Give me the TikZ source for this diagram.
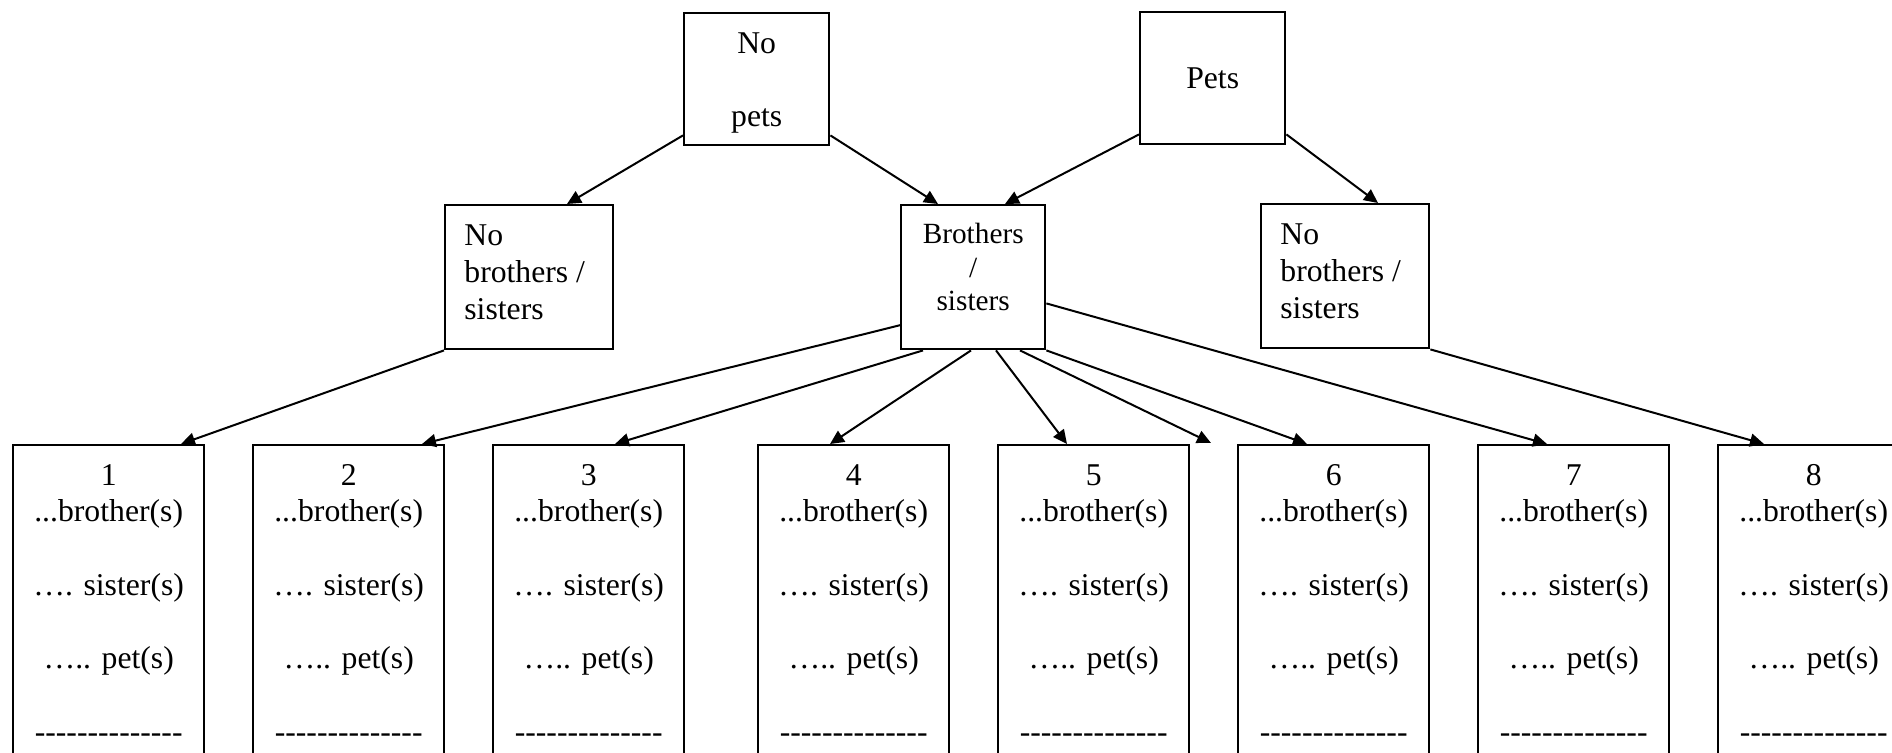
\documentclass[tikz,border=0pt]{standalone}
\usepackage{fontspec}
\newfontfamily\tnr{Liberation Serif}
\usetikzlibrary{arrows.meta,calc}
\begin{document}
\begin{tikzpicture}[x=0.5pt,y=-0.5pt,
  box/.style={draw,line width=1.2pt,rectangle,inner sep=0pt,anchor=north west},
  topbox/.style={box,minimum width=72.5pt,minimum height=66pt},
  midbox/.style={box,minimum width=84pt,minimum height=72pt},
  brbox/.style={box,minimum width=72pt,minimum height=72pt},
  botbox/.style={box,minimum width=95.5pt,minimum height=350pt},
  txt/.style={font=\tnr\fontsize{15.85}{18.35}\selectfont,inner sep=0pt,align=center},
  ltxt/.style={txt,align=left,anchor=west},
  stxt/.style={font=\tnr\fontsize{14.65}{16.75}\selectfont,inner sep=0pt,align=center},
  arr/.style={line width=1pt,-{Triangle[length=7pt,width=6.5pt]}}]
\useasboundingbox (0,0) rectangle (1892,752);
\clip (0,0) rectangle (1892,752);

% top row
\node[topbox] (np) at (683,12) {};
\node[topbox] (pe) at (1139,11) {};
\node[txt] (npt) at ($(np.center)+(0,4)$) {No\\~\\pets};
\node[txt] (pet) at (pe.center) {Pets};

% middle row
\node[midbox] (nbl) at (444,204) {};
\node[brbox] (br) at (900,204) {};
\node[midbox] (nbr) at (1260,203) {};
\node[ltxt] (nblt) at ($(nbl.west)+(20,-5)$) {No\\brothers /\\sisters};
\node[ltxt] (nbrt) at ($(nbr.west)+(20,-5)$) {No\\brothers /\\sisters};
\node[stxt] (brt) at ($(br.center)+(0,-10)$) {Brothers\\/\\sisters};

% bottom row
\foreach \i/\x in {1/12,2/252,3/492,4/757,5/997,6/1237,7/1477,8/1717}{
  \node[botbox] (b\i) at (\x,444) {};
  \node[txt,anchor=base] (bt\i) at ($(b\i.north)+(0,298)$)
    {\i\\...brother(s)\\~\\…. sister(s)\\~\\….. pet(s)\\~\\--------------};
}
\coordinate (free) at (1211,443);

% connectors
\draw[arr] ($(np.south west)+(0,-11)$) -- ($(nbl.north west)+(123,0)$);
\draw[arr] ($(np.south east)+(0,-11)$) -- ($(br.north west)+(38,0)$);
\draw[arr] ($(pe.south west)+(0,-11)$) -- ($(br.north west)+(105,0)$);
\draw[arr] ($(pe.south east)+(0,-11)$) -- ($(nbr.north west)+(118,0)$);

\draw[arr] (nbl.south west) -- ($(b1.north west)+(169,0)$);
\draw[arr] ($(br.west)+(0,48)$) -- ($(b2.north west)+(170,0)$);
\draw[arr] ($(br.south west)+(23,0)$) -- ($(b3.north west)+(123,0)$);
\draw[arr] ($(br.south west)+(71,0)$) -- ($(b4.north west)+(73,0)$);
\draw[arr] ($(br.south west)+(96,0)$) -- ($(b5.north west)+(70,0)$);
\draw[arr] ($(br.south west)+(120,0)$) -- (free);
\draw[arr] (br.south east) -- ($(b6.north west)+(70,0)$);
\draw[arr] ($(br.south east)+(0,-47)$) -- ($(b7.north west)+(70,0)$);
\draw[arr] (nbr.south east) -- ($(b8.north west)+(47,0)$);
\end{tikzpicture}
\end{document}
